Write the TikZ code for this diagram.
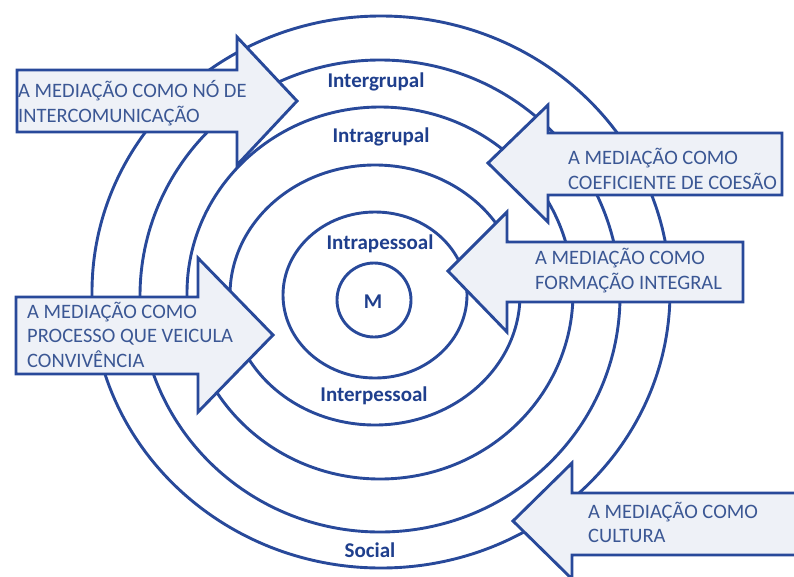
\documentclass[tikz,border=0pt]{standalone}
\usepackage{fontspec}
\setmainfont{Carlito}
\usetikzlibrary{shapes.geometric}
\definecolor{ringblue}{HTML}{28499A}
\definecolor{labelblue}{HTML}{1F3F8D}
\definecolor{boxtext}{HTML}{3B5794}
\definecolor{boxfill}{HTML}{EEF1F7}
\tikzset{
  ring/.style={draw=ringblue, line width=2.9pt, ellipse, inner sep=0pt, fill=none},
  lbl/.style={text=labelblue, font=\fontsize{21}{24}\selectfont\bfseries, inner sep=0pt},
  bigarrow/.style={draw=ringblue, fill=boxfill, line width=2.9pt, line join=miter},
  boxlbl/.style={text=boxtext, font=\fontsize{20.5}{25}\selectfont, align=left, inner sep=0pt, anchor=base west}
}
\begin{document}
\begin{tikzpicture}[x=1pt, y=-1pt]
\useasboundingbox (0,0) rectangle (794,576);
\clip (0,0) rectangle (794,576);
\fill[white] (0,0) rectangle (794,576);
% rings
\node[ring, minimum width=578pt, minimum height=552pt] (c6) at (381,292) {};
\node[ring, minimum width=480pt, minimum height=472pt] (c5) at (380,296) {};
\node[ring, minimum width=386pt, minimum height=372pt] (c4) at (380,293) {};
\node[ring, minimum width=290pt, minimum height=260pt] (c3) at (375,295) {};
\node[ring, minimum width=184pt, minimum height=166pt] (c2) at (375,295) {};
\node[ring, minimum width=74pt, minimum height=74pt] (c1) at (374,300) {};
% ring labels
\node[lbl] (lm) at (373,302) {M};
\node[lbl] (lintra) at (380,244) {Intrapessoal};
\node[lbl] (linter) at (374,396) {Interpessoal};
\node[lbl] (lintrag) at (381,137) {Intragrupal};
\node[lbl] (lenterg) at (376,82) {Intergrupal};
\node[lbl] (lsoc) at (370,550) {Social};
% arrows
\draw[bigarrow] (17,70) -- (237,70) -- (237,37) -- (297,101) -- (237,165) -- (237,132) -- (17,132) -- cycle;
\draw[bigarrow] (782,133) -- (548,133) -- (548,105) -- (488,163) -- (548,222) -- (548,195) -- (782,195) -- cycle;
\draw[bigarrow] (743,242) -- (507,242) -- (507,212) -- (448,271) -- (507,332) -- (507,302) -- (743,302) -- cycle;
\draw[bigarrow] (16,297) -- (198,297) -- (198,258) -- (273,335) -- (198,412) -- (198,374) -- (16,374) -- cycle;
\draw[bigarrow] (810,493) -- (572,493) -- (572,463) -- (513,521) -- (572,579) -- (572,555) -- (810,555) -- cycle;
% arrow texts (anchor = baseline of last line)
\node[boxlbl] (t1) at (18,122) {A MEDIAÇÃO COMO NÓ DE\\INTERCOMUNICAÇÃO};
\node[boxlbl] (t2) at (568,189) {A MEDIAÇÃO COMO\\COEFICIENTE DE COESÃO};
\node[boxlbl] (t3) at (535,289) {A MEDIAÇÃO COMO\\FORMAÇÃO INTEGRAL};
\node[boxlbl, font=\fontsize{20.5}{24.5}\selectfont] (t4) at (27,367) {A MEDIAÇÃO COMO\\PROCESSO QUE VEICULA\\CONVIVÊNCIA};
\node[boxlbl, font=\fontsize{20.5}{24}\selectfont] (t5) at (588,542) {A MEDIAÇÃO COMO\\CULTURA};
\end{tikzpicture}
\end{document}
